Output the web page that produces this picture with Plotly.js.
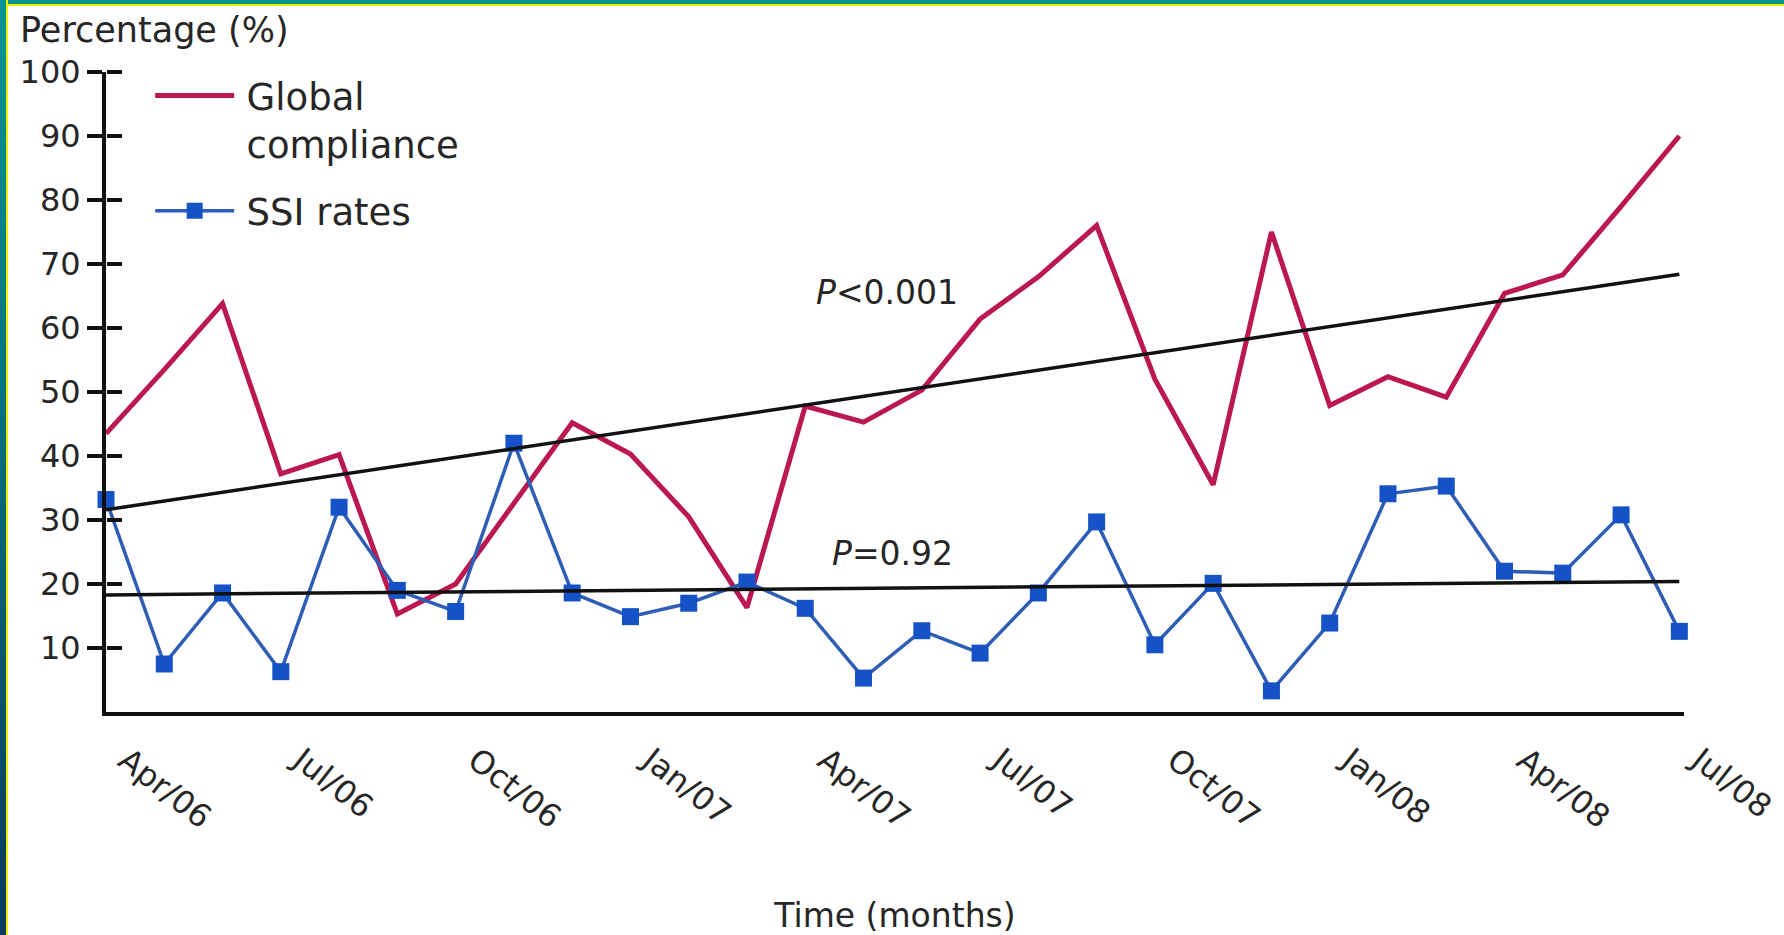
<!DOCTYPE html>
<html>
<head>
<meta charset="utf-8">
<script src="https://cdn.plot.ly/plotly-3.0.1.min.js"></script>
<style>
  html, body { margin: 0; padding: 0; background: #ffffff; }
  #wrap { position: relative; width: 1784px; height: 935px; overflow: hidden; background: #ffffff; }
  #chart { position: absolute; left: 0; top: 0; width: 1784px; height: 935px; }
  #edgeLeft { position: absolute; left: 0; top: 0; width: 6px; height: 935px;
    background: linear-gradient(to bottom, #00968f 0%, #08707a 45%, #0c3a5a 100%);
    border-right: 2px solid #f2f000; z-index: 5; }
  #edgeTop { position: absolute; left: 0; top: 0; width: 1784px; height: 4px;
    background: #00968f; border-bottom: 2px solid #f2f000; z-index: 5; }
</style>
</head>
<body>
<div id="wrap">
  <div id="chart"></div>
  <div id="edgeTop"></div>
  <div id="edgeLeft"></div>
</div>
<script>
// Monthly points, Apr/06 .. Jul/08
const months = ["Apr/06","May/06","Jun/06","Jul/06","Aug/06","Sep/06","Oct/06","Nov/06","Dec/06",
                "Jan/07","Feb/07","Mar/07","Apr/07","May/07","Jun/07","Jul/07","Aug/07","Sep/07",
                "Oct/07","Nov/07","Dec/07","Jan/08","Feb/08","Mar/08","Apr/08","May/08","Jun/08","Jul/08"];
const globalCompliance = [43.5, 53.5, 63.8, 37.2, 40.2, 15.3, 20.0, 32.5, 45.2, 40.3, 30.5, 16.3, 47.8, 45.3,
                          50.3, 61.4, 68.0, 76.0, 52.0, 35.5, 75.0, 47.9, 52.4, 49.2, 65.4, 68.3, 79.0, 90.0];
const ssiRates = [33.2, 7.5, 18.6, 6.3, 32.0, 19.0, 15.7, 42.0, 18.6, 14.9, 17.0, 20.3, 16.2, 5.3,
                  12.7, 9.2, 18.6, 29.7, 10.5, 20.1, 3.3, 13.9, 34.1, 35.3, 22.0, 21.7, 30.8, 12.6];
// Trend lines (start and end values)
const trendMonths = ["Apr/06", "Jul/08"];
const complianceTrend = [31.6, 68.4];
const ssiTrend = [18.3, 20.4];
// Axis ticks
const xTickLabels = ["Apr/06","Jul/06","Oct/06","Jan/07","Apr/07","Jul/07","Oct/07","Jan/08","Apr/08","Jul/08"];
const yTicks = [10, 20, 30, 40, 50, 60, 70, 80, 90, 100];
const seriesNames = ["Global<br>compliance", "SSI rates"];
const pLabels = ["<i>P</i>&lt;0.001", "<i>P</i>=0.92"];

const FONT = "DejaVu Sans, Verdana, sans-serif";
const TXT = "#262626";
const PAD = "\u2009"; // thin space between legend symbol and text

const traces = [
  { x: months, y: globalCompliance, type: "scatter", mode: "lines",
    name: seriesNames[0].split("<br>").map(s => PAD + s).join("<br>"), legendgroup: "g1",
    line: { color: "#bb1750", width: 5 } },
  { x: months, y: ssiRates, type: "scatter", mode: "lines+markers",
    name: PAD + seriesNames[1], legendgroup: "g2", line: { color: "#2d5db5", width: 3.5 },
    marker: { symbol: "square", size: 17, color: "#1652c7" }, cliponaxis: false },
  { x: trendMonths, y: complianceTrend, type: "scatter", mode: "lines", yaxis: "y2",
    line: { color: "#111111", width: 3.5 }, showlegend: false, hoverinfo: "skip" },
  { x: trendMonths, y: ssiTrend, type: "scatter", mode: "lines", yaxis: "y2",
    line: { color: "#111111", width: 3.5 }, showlegend: false, hoverinfo: "skip" }
];

const layout = {
  width: 1784, height: 935,
  paper_bgcolor: "#ffffff", plot_bgcolor: "#ffffff",
  margin: { l: 106, r: 100, t: 72, b: 223 },
  font: { family: FONT, color: TXT, size: 32 },
  showlegend: true,
  legend: {
    x: 0.028, y: 1.011, xanchor: "left", yanchor: "top",
    bgcolor: "rgba(0,0,0,0)", valign: "top",
    font: { family: FONT, size: 37, color: TXT },
    itemwidth: 79, tracegroupgap: 16
  },
  xaxis: {
    type: "category", categoryorder: "array", categoryarray: months, range: [0, 27.08],
    showline: true, linecolor: "#111111", linewidth: 4,
    showgrid: false, zeroline: false, ticks: "",
    tickmode: "array", tickvals: xTickLabels, ticktext: xTickLabels,
    tickangle: 38, tickfont: { family: FONT, size: 32, color: TXT },
    ticklabelshift: 20, ticklabelstandoff: 13,
    title: { text: "Time (months)", font: { family: FONT, size: 33, color: TXT }, standoff: 90 },
    automargin: false, fixedrange: true
  },
  yaxis: {
    range: [0, 100], showline: true, linecolor: "#111111", linewidth: 4,
    showgrid: false, zeroline: false,
    ticks: "outside", ticklen: 15, tickwidth: 3.5, tickcolor: "#111111",
    tickmode: "array", tickvals: yTicks, ticktext: yTicks.map(String),
    tickfont: { family: FONT, size: 32, color: TXT },
    automargin: false, fixedrange: true
  },
  yaxis2: {
    overlaying: "y", anchor: "free", position: 0, side: "right", range: [0, 100],
    showline: false, showgrid: false, zeroline: false,
    ticks: "outside", ticklen: 15, tickwidth: 3.5, tickcolor: "#111111",
    tickmode: "array", tickvals: yTicks, showticklabels: false,
    automargin: false, fixedrange: true
  },
  annotations: [
    { text: "Percentage (%)", xref: "paper", yref: "paper", x: -0.056, y: 1.065,
      xanchor: "left", yanchor: "middle", showarrow: false,
      font: { family: FONT, size: 35, color: TXT } },
    { text: pLabels[0], xref: "x", yref: "y", x: 13.4, y: 65.6,
      xanchor: "center", yanchor: "middle", showarrow: false,
      font: { family: FONT, size: 33, color: TXT } },
    { text: pLabels[1], xref: "x", yref: "y", x: 13.5, y: 24.7,
      xanchor: "center", yanchor: "middle", showarrow: false,
      font: { family: FONT, size: 33, color: TXT } }
  ]
};

Plotly.newPlot("chart", traces, layout, { displayModeBar: false, staticPlot: true });
</script>
</body>
</html>
